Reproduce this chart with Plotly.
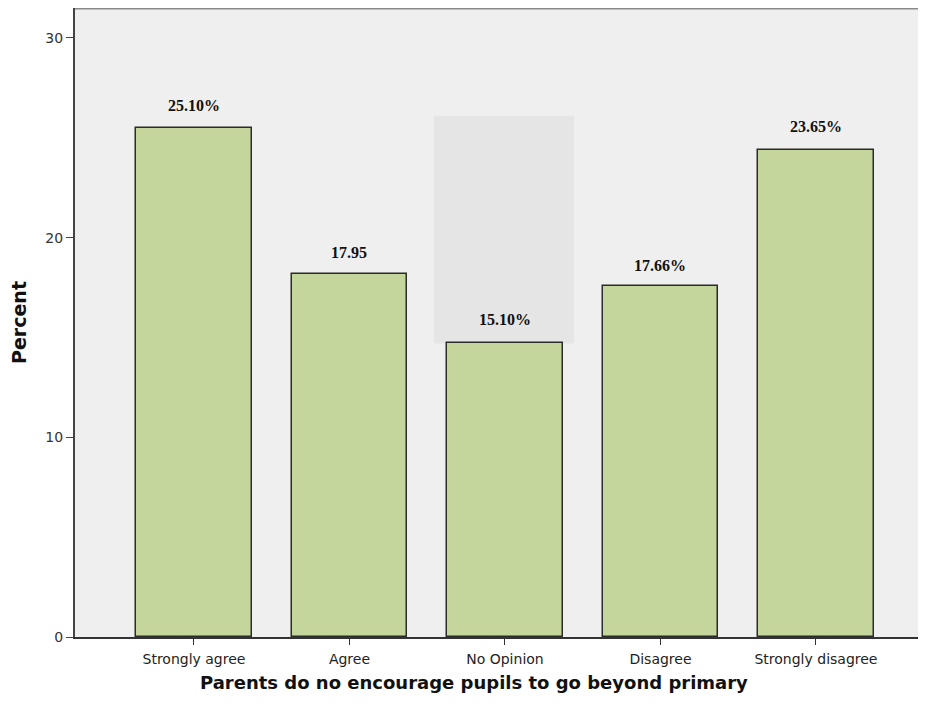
import plotly.graph_objects as go

categories = ["Strongly agree", "Agree", "No Opinion", "Disagree", "Strongly disagree"]
percent = [25.5, 18.2, 14.7, 17.6, 24.4]
labels = ["25.10%", "17.95", "15.10%", "17.66%", "23.65%"]
label_shift = [12, 11, 13, 10, 13]
y_ticks = [0, 10, 20, 30]
x_title = "Parents do no encourage pupils to go beyond primary"

xs = list(range(len(categories)))

fig = go.Figure()

# light gray overlay box behind No Opinion label (artifact in reference)
fig.add_shape(type="rect", xref="x", yref="y", x0=1.543, x1=2.444, y0=percent[2], y1=26.1,
              fillcolor="#e5e5e5", line=dict(width=0), layer="below")

fig.add_trace(go.Bar(
    x=xs, y=percent, width=0.74,
    marker=dict(color="#c4d69b", line=dict(color="#2b2b2b", width=1.5)),
    hoverinfo="skip", showlegend=False,
))

for x, v, t, s in zip(xs, percent, labels, label_shift):
    fig.add_annotation(x=x, y=v, text=f"<b>{t}</b>", showarrow=False, yanchor="bottom",
                       yshift=s, font=dict(family="Liberation Serif", size=16, color="#111"))

# x axis title (offset left of centre, as in the reference)
fig.add_annotation(xref="paper", yref="paper", x=0.4645, y=-0.073, text=f"<b>{x_title}</b>",
                   showarrow=False, xanchor="center", yanchor="middle",
                   font=dict(family="DejaVu Sans", size=18, color="#111"))

# top border line
fig.add_shape(type="line", xref="paper", yref="paper", x0=0, x1=1, y0=1, y1=1,
              line=dict(color="#8a8a8a", width=3))

fig.update_layout(
    width=926, height=710,
    margin=dict(l=67, r=0, t=0, b=81),
    paper_bgcolor="white", plot_bgcolor="#efefef",
    bargap=0,
    xaxis=dict(
        tickmode="array", tickvals=xs, ticktext=categories,
        range=[-0.765, 4.759], showgrid=False, zeroline=False,
        showline=True, linecolor="#333", linewidth=1.5,
        ticks="outside", ticklen=6, tickcolor="#333", ticklabelstandoff=2,
        tickfont=dict(family="DejaVu Sans", size=14, color="#222"),
    ),
    yaxis=dict(
        range=[0, 31.5], tickvals=y_ticks, showgrid=False, zeroline=False,
        showline=True, linecolor="#444", linewidth=2,
        ticks="outside", ticklen=7, tickcolor="#444",
        tickfont=dict(family="DejaVu Sans", size=14, color="#333"),
        title=dict(text="<b>Percent</b>", font=dict(family="DejaVu Sans", size=19, color="#111"),
                   standoff=18),
    ),
)

fig.write_html("out.html")
